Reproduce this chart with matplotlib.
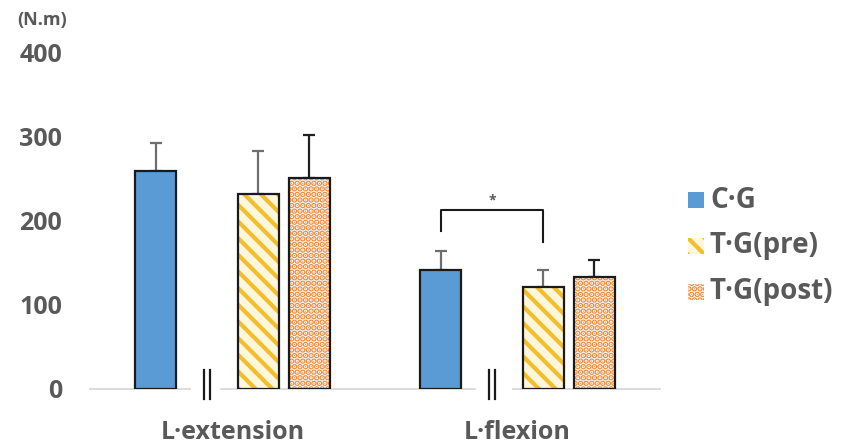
import matplotlib
matplotlib.use("Agg")
import matplotlib.pyplot as plt
from matplotlib.patches import Rectangle
import numpy as np

plt.rcParams['font.family'] = ['Open Sans', 'DejaVu Sans']
plt.rcParams['hatch.linewidth'] = 3.0

# ---- data ----
groups = ['L·extension', 'L·flexion']
series = ['C·G', 'T·G(pre)', 'T·G(post)']
cg_vals = [259, 141]
cg_err = [33, 23]
pre_vals = [232, 121]
pre_err = [51, 20]
post_vals = [250, 133]
post_err = [51, 20]
yticks = [0, 100, 200, 300, 400]
unit_label = '(N.m)'
sig_label = '*'

TXT = '#595959'
W, H = 843, 447
fig = plt.figure(figsize=(W / 100, H / 100), dpi=100)
ax = fig.add_axes([90 / W, (H - 389) / H, 570 / W, (389 - 52) / H])
ax.set_xlim(-0.5, 1.5)
ax.set_ylim(0, 400)
for s in ax.spines.values():
    s.set_visible(False)

slot = 0.18
bw = 0.8 * slot
gx = np.arange(len(groups))
offs = [-1.5 * slot, 0.5 * slot, 1.5 * slot]
styles = [
    dict(face='#5B9BD5', hcol='#5B9BD5', hatch=None),
    dict(face='#FFF6DC', hcol='#F2BE2C', hatch='\\\\'),
    dict(face='#FFFAF5', hcol='#EE8A3C', hatch='...'),
]
vals = [cg_vals, pre_vals, post_vals]
errs = [cg_err, pre_err, post_err]
ecols = ['#6E6E6E', '#6E6E6E', '#202020']
for i in range(3):
    x = gx + offs[i]
    st = styles[i]
    ax.bar(x, vals[i], bw, color=st['face'], edgecolor=st['hcol'],
           hatch=st['hatch'], linewidth=0, zorder=2)
    ax.bar(x, vals[i], bw, fill=False, edgecolor='#1A1A1A', linewidth=1.6, zorder=3)
    ax.errorbar(x, vals[i], yerr=[np.zeros(len(x)), errs[i]], fmt='none',
                ecolor=ecols[i], elinewidth=1.6, capsize=4, capthick=1.6, zorder=1)

# baseline with breaks
brk = -0.5 * slot
segs = [(-0.5, brk - 0.06), (brk + 0.05, 1 + brk - 0.06), (1 + brk + 0.075, 1.5)]
for a, b in segs:
    ax.plot([a, b], [0, 0], color='#D9D9D9', lw=1.3, zorder=1, clip_on=False)
for g in gx:
    for dx in (-0.011, 0.011):
        ax.plot([g + brk + dx] * 2, [-12, 22], color='#1A1A1A', lw=1.6,
                clip_on=False, zorder=4)

# significance bracket
xl = gx[1] + offs[0]
xr = gx[1] + offs[1]
ax.plot([xl, xl, xr, xr], [187, 213, 213, 175], color='#1A1A1A', lw=1.5, zorder=4)
ax.text((xl + xr) / 2, 224, sig_label, ha='center', va='center', fontsize=10,
        color=TXT, fontweight='bold')

ax.set_yticks(yticks)
ax.set_yticklabels([str(v) for v in yticks], fontsize=18, fontweight='bold', color=TXT)
ax.set_xticks(gx)
ax.set_xticklabels(groups, fontsize=18, fontweight='bold', color=TXT)
ax.tick_params(axis='y', length=0, pad=20)
ax.tick_params(axis='x', length=0, pad=22)

fig.text(17 / W, 1 - 20 / H, unit_label, fontsize=13, fontweight='bold', color=TXT,
         ha='left', va='center')

# legend
leg_y = [200, 246, 292]
for i in range(3):
    st = styles[i]
    yc = leg_y[i]
    r = Rectangle((688 / W, 1 - (yc + 8) / H), 16 / W, 16 / H, transform=fig.transFigure,
                  facecolor=st['face'], edgecolor=st['hcol'], hatch=st['hatch'], lw=0)
    fig.add_artist(r)
    fig.text(710 / W, 1 - yc / H, series[i], fontsize=20, fontweight='bold', color=TXT,
             ha='left', va='center')

fig.savefig('out.png', dpi=100)
